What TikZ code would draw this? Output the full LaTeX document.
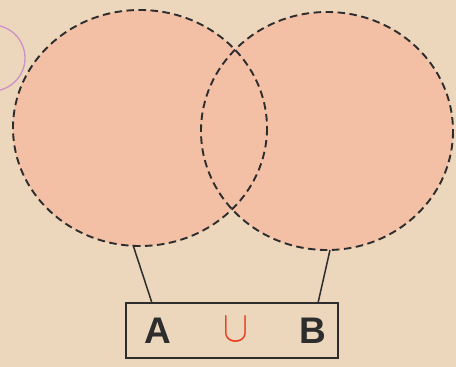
\documentclass[tikz,border=0pt]{standalone}
\usepackage{fontspec}
\setmainfont{Liberation Sans}
\definecolor{paper}{RGB}{236,214,188}
\definecolor{peach}{RGB}{243,192,166}
\definecolor{ink}{RGB}{45,45,45}
\definecolor{cupred}{RGB}{232,60,30}
\definecolor{lilac}{RGB}{205,145,200}
\begin{document}
\begin{tikzpicture}[x=1pt,y=-1pt,
  setline/.style={ink, line width=1.9pt, dash pattern=on 7.5pt off 4.5pt},
  conn/.style={ink, line width=1.5pt},
  letter/.style={font=\bfseries\fontsize{37}{37}\selectfont, text=ink, inner sep=0pt}]
\useasboundingbox (0,0) rectangle (456,367);
\fill[paper] (0,0) rectangle (456,367);
% stray pink circle at top left
\begin{scope}
\clip (0,0) rectangle (456,367);
\draw[lilac, line width=1.3pt] (-8,58) circle (33);
\end{scope}
% filled sets
\fill[peach] (140,128) ellipse (127 and 118);
\fill[peach] (327,131) ellipse (126 and 119);
% outlines
\draw[setline] (140,128) ellipse (127 and 118);
\draw[setline] (327,131) ellipse (126 and 119);
\coordinate (pa) at (133,245);
\coordinate (pb) at (330,250);
% label box
\node[draw=ink, line width=1.5pt, minimum width=212pt, minimum height=55pt, inner sep=0pt] (box) at (232,330.5) {};
\node[letter] (A) at (158,331) {A};
\node[cupred, inner sep=0pt] (cup) at (236,329) {\scalebox{1.5}[1.75]{\fontsize{24}{24}\selectfont$\cup$}};
\node[letter] (B) at (313,331) {B};
\coordinate (ba) at (152,303);
\coordinate (bb) at (318,303);
\draw[conn] (pa) -- (ba);
\draw[conn] (pb) -- (bb);
\end{tikzpicture}
\end{document}
